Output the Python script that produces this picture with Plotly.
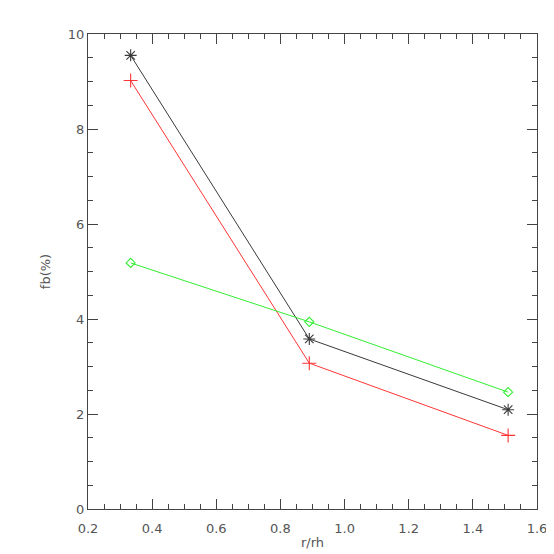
import plotly.graph_objects as go

r_rh = [0.333, 0.89, 1.51]
fb_black = [9.55, 3.58, 2.09]
fb_red = [9.02, 3.07, 1.55]
fb_green = [5.18, 3.94, 2.46]

x_ticks = [0.2, 0.4, 0.6, 0.8, 1.0, 1.2, 1.4, 1.6]
x_labels = ["0.2", "0.4", "0.6", "0.8", "1.0", "1.2", "1.4", "1.6"]
y_ticks = [0, 2, 4, 6, 8, 10]
y_labels = ["0", "2", "4", "6", "8", "10"]

fig = go.Figure()
fig.add_trace(go.Scatter(x=r_rh, y=fb_black, mode="lines+markers",
                         line=dict(color="#3a3a3a", width=1),
                         marker=dict(symbol="asterisk-open", size=10,
                                     line=dict(color="#111111", width=1.1))))
fig.add_trace(go.Scatter(x=r_rh, y=fb_red, mode="lines+markers",
                         line=dict(color="#ff3535", width=1),
                         marker=dict(symbol="cross-thin-open", size=10,
                                     line=dict(color="#ff3535", width=1.1))))
fig.add_trace(go.Scatter(x=r_rh, y=fb_green, mode="lines+markers",
                         line=dict(color="#33ee33", width=1),
                         marker=dict(symbol="diamond-open", size=7,
                                     color="#33ee33",
                                     line=dict(color="#33ee33", width=1.1))))

axis_common = dict(showline=True, linecolor="#444444", linewidth=1,
                   mirror="ticks", ticks="inside", ticklen=10,
                   tickcolor="#444444", showgrid=False, zeroline=False,
                   tickfont=dict(family="DejaVu Sans", size=13, color="#555555"))

fig.update_xaxes(range=[0.2, 1.6], tickvals=x_ticks, ticktext=x_labels,
                 ticklabelstandoff=7,
                 minor=dict(ticks="inside", ticklen=5, dtick=0.05,
                            tickcolor="#444444", showgrid=False),
                 title=dict(text="r/rh", standoff=3,
                            font=dict(family="DejaVu Sans", size=13, color="#555555")),
                 **axis_common)
fig.update_yaxes(range=[0, 10], tickvals=y_ticks, ticktext=y_labels,
                 minor=dict(ticks="inside", ticklen=5, dtick=0.5,
                            tickcolor="#444444", showgrid=False),
                 title=dict(text="fb(%)", standoff=14,
                            font=dict(family="DejaVu Sans", size=13, color="#555555")),
                 **axis_common)

fig.update_layout(width=554, height=554, showlegend=False,
                  plot_bgcolor="white", paper_bgcolor="white",
                  margin=dict(l=80, r=25, t=26, b=53))

fig.write_html("out.html")
